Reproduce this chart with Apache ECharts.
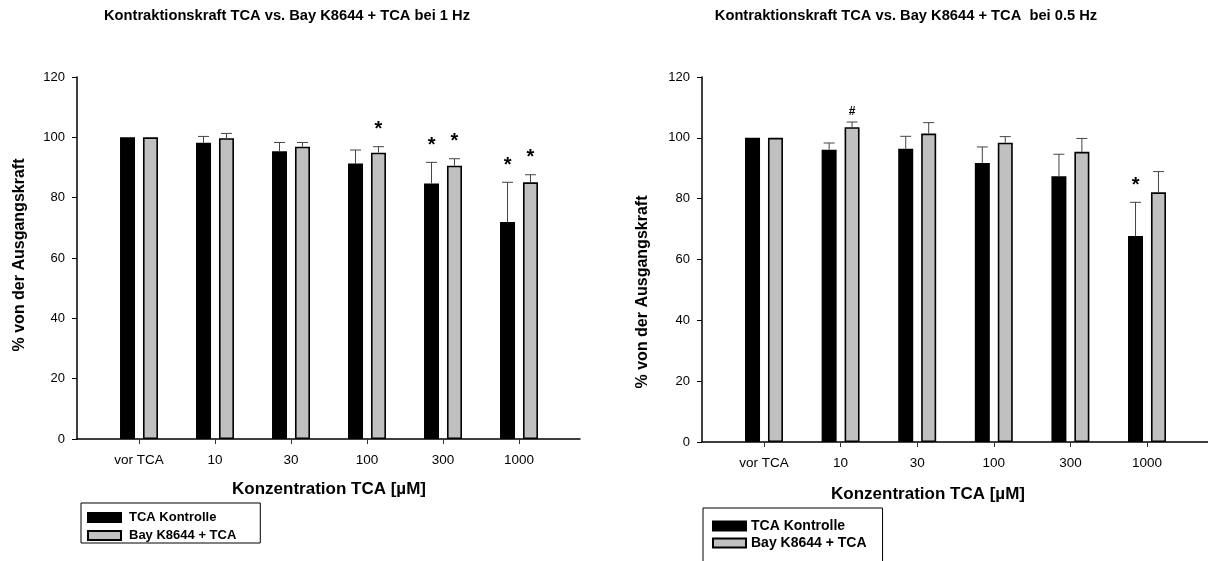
<!DOCTYPE html>
<html>
<head>
<meta charset="utf-8">
<script src="https://cdn.jsdelivr.net/npm/echarts@6/dist/echarts.min.js"></script>
<style>
  html, body { margin: 0; background: #fff; }
  #main { width: 1208px; height: 561px; }
</style>
</head>
<body>
<div id="main"></div>
<script>
const categories = ['vor TCA', '10', '30', '100', '300', '1000'];
const seriesNames = ['TCA Kontrolle', 'Bay K8644 + TCA'];

// 1 Hz
const ctrl1Hz = [100, 98.2, 95.4, 91.3, 84.7, 71.9];
const ctrl1HzSd = [0, 2.1, 2.9, 4.5, 7.0, 13.2];
const bay1Hz = [100, 99.7, 96.9, 94.9, 90.6, 85.1];
const bay1HzSd = [0, 1.6, 1.4, 2.0, 2.3, 2.5];
const ctrl1HzMark = ['', '', '', '', '*', '*'];
const bay1HzMark = ['', '', '', '*', '*', '*'];

// 0.5 Hz
const ctrl05Hz = [100, 96.1, 96.4, 91.7, 87.4, 67.7];
const ctrl05HzSd = [0, 2.2, 4.1, 5.3, 7.2, 11.1];
const bay05Hz = [100, 103.5, 101.4, 98.4, 95.4, 82.1];
const bay05HzSd = [0, 1.7, 3.6, 2.0, 4.4, 6.8];
const ctrl05HzMark = ['', '', '', '', '', '*'];
const bay05HzMark = ['', '#', '', '', '', ''];

const yMin = 0, yMax = 120, yStep = 20;

const FONT = '"Liberation Sans", Arial, sans-serif';
const BAR_W = 15;
const BAR_GAP = 0.53;               // fraction of bar width
const BAR_OFF = BAR_W * (1 + BAR_GAP) / 2;

const chart = echarts.init(document.getElementById('main'));

function frameAxes(gridIndex) {
  const x = {
    gridIndex, type: 'value', min: 0, max: 1,
    axisLine: { show: true, lineStyle: { color: '#000', width: 1.5 } },
    axisTick: { show: false }, axisLabel: { show: false }, splitLine: { show: false }
  };
  const y = {
    gridIndex, type: 'value', min: yMin, max: yMax, interval: yStep,
    axisLine: { show: true, lineStyle: { color: '#000', width: 1.5 } },
    axisTick: { show: true, length: 5, lineStyle: { color: '#000' } },
    axisLabel: { color: '#000', fontSize: 13, fontFamily: FONT, margin: 12 },
    splitLine: { show: false }
  };
  return [x, y];
}

function barAxes(gridIndex) {
  const x = {
    gridIndex, type: 'category', data: categories,
    axisLine: { show: false },
    axisTick: { show: true, alignWithLabel: true, length: 5, lineStyle: { color: '#333' } },
    axisLabel: { color: '#000', fontSize: 13.5, fontFamily: FONT, margin: 14 },
    splitLine: { show: false }
  };
  const y = { gridIndex, type: 'value', min: yMin, max: yMax, show: false, splitLine: { show: false } };
  return [x, y];
}

function barSeries(axisIdx, name, data, color) {
  return {
    type: 'bar', name, data,
    xAxisIndex: axisIdx, yAxisIndex: axisIdx,
    barWidth: BAR_W, barGap: (BAR_GAP * 100) + '%',
    itemStyle: { color, borderColor: '#000', borderWidth: 1.6 },
    emphasis: { disabled: true }
  };
}

function errSeries(axisIdx, name, means, sds, marks, side) {
  return {
    type: 'custom', name,
    xAxisIndex: axisIdx, yAxisIndex: axisIdx,
    data: means.map((m, i) => [i, m, m + sds[i]]),
    encode: { x: 0, y: [1, 2] },
    z: 5,
    renderItem: (params, api) => {
      const base = api.coord([api.value(0), api.value(1)]);
      const top = api.coord([api.value(0), api.value(2)]);
      const x = base[0] + side * BAR_OFF;
      const children = [];
      if (api.value(2) > api.value(1)) {
        children.push({ type: 'line', shape: { x1: x, y1: base[1], x2: x, y2: top[1] },
          style: { stroke: '#444', lineWidth: 1 } });
        children.push({ type: 'line', shape: { x1: x - 5.5, y1: top[1], x2: x + 5.5, y2: top[1] },
          style: { stroke: '#444', lineWidth: 1 } });
      }
      const mark = marks[params.dataIndex];
      if (mark === '*') {
        children.push({ type: 'text', style: { text: '*', x, y: top[1] - 17, align: 'center',
          verticalAlign: 'middle', font: 'bold 20px ' + FONT, fill: '#000' } });
      } else if (mark) {
        children.push({ type: 'text', style: { text: mark, x, y: top[1] - 10, align: 'center',
          verticalAlign: 'middle', font: 'bold 12px ' + FONT, fill: '#000' } });
      }
      return { type: 'group', children };
    }
  };
}

const [fx0, fy0] = frameAxes(0);
const [bx1, by1] = barAxes(1);
const [fx2, fy2] = frameAxes(2);
const [bx3, by3] = barAxes(3);

function label(text, x, y, size, rotation) {
  return {
    type: 'text', x, y, rotation: rotation || 0,
    style: { text, align: 'center', verticalAlign: 'middle',
      font: 'bold ' + size + 'px ' + FONT, fill: '#000' }
  };
}

const legendBase = {
  orient: 'vertical', data: seriesNames, icon: 'rect',
  itemWidth: 33, itemHeight: 9, borderColor: '#000', borderWidth: 1,
  selectedMode: false, borderRadius: 0, height: 80
};

chart.setOption({
  animation: false,
  grid: [
    { left: 77, top: 77, width: 503, height: 362 },
    { left: 101, top: 77, width: 456, height: 362 },
    { left: 702, top: 77, width: 506, height: 365 },
    { left: 725.7, top: 77, width: 459.6, height: 365 }
  ],
  xAxis: [fx0, bx1, fx2, bx3],
  yAxis: [fy0, by1, fy2, by3],
  legend: [
    Object.assign({}, legendBase, { left: 81, top: 503, padding: [8, 24, 1, 6], itemGap: 5,
      textStyle: { fontWeight: 'bold', fontSize: 13, fontFamily: FONT, color: '#000', padding: [0, 0, 0, 3] } }),
    Object.assign({}, legendBase, { left: 703, top: 508, padding: [11, 16, 20, 9], itemGap: 3,
      textStyle: { fontWeight: 'bold', fontSize: 14, fontFamily: FONT, color: '#000' } })
  ],
  graphic: [
    label('Kontraktionskraft TCA vs. Bay K8644 + TCA bei 1 Hz', 287, 16, 14.7),
    label('Kontraktionskraft TCA vs. Bay K8644 + TCA  bei 0.5 Hz', 906, 16, 14.7),
    label('% von der Ausgangskraft', 20, 255, 16, Math.PI / 2),
    label('% von der Ausgangskraft', 643, 292, 16, Math.PI / 2),
    label('Konzentration TCA [µM]', 329, 489, 17),
    label('Konzentration TCA [µM]', 928, 494, 17)
  ],
  series: [
    barSeries(1, seriesNames[0], ctrl1Hz, '#000'),
    barSeries(1, seriesNames[1], bay1Hz, '#c0c0c0'),
    errSeries(1, 'err-ctrl-1', ctrl1Hz, ctrl1HzSd, ctrl1HzMark, -1),
    errSeries(1, 'err-bay-1', bay1Hz, bay1HzSd, bay1HzMark, 1),
    barSeries(3, seriesNames[0], ctrl05Hz, '#000'),
    barSeries(3, seriesNames[1], bay05Hz, '#c0c0c0'),
    errSeries(3, 'err-ctrl-05', ctrl05Hz, ctrl05HzSd, ctrl05HzMark, -1),
    errSeries(3, 'err-bay-05', bay05Hz, bay05HzSd, bay05HzMark, 1)
  ]
});
</script>
</body>
</html>
